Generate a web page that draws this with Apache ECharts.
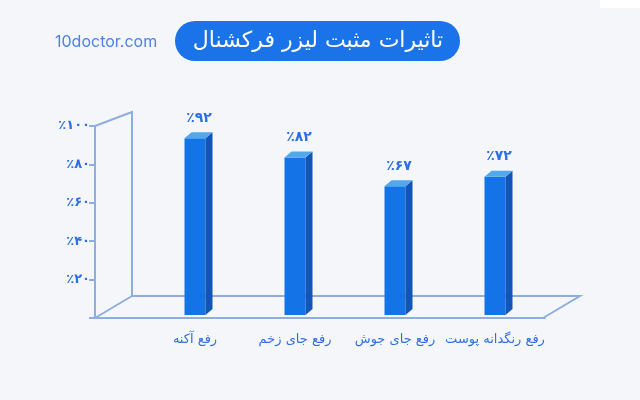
<!DOCTYPE html>
<html>
<head>
<meta charset="utf-8">
<script src="https://cdn.jsdelivr.net/npm/echarts@6/dist/echarts.min.js"></script>
<style>
  html, body { margin: 0; padding: 0; background: #f5f6fa; }
  #main { width: 640px; height: 400px; }
</style>
</head>
<body>
<div id="main"></div>
<script>
// داده ها
var categories = ['رفع آکنه', 'رفع جای زخم', 'رفع جای جوش', 'رفع رنگدانه پوست'];
var values = [92, 82, 67, 72];
var yTickValues = [20, 40, 60, 80, 100];
var chartTitle = 'تاثیرات مثبت لیزر فرکشنال';
var siteName = '10doctor.com';

var faDigits = '۰۱۲۳۴۵۶۷۸۹';
function toFa(n) {
	return String(n).replace(/[0-9]/g, function (d) { return faDigits[+d]; });
}
function pct(n) {
	return '\u200E٪' + toFa(n);
}

var lineColor = '#8eaee0';
var textBlue = '#2f6fe4';

var myChart = echarts.init(document.getElementById('main'));

function renderBar(params, api) {
	var x = api.value(0), v = api.value(1);
	var base = api.coord([x, 0]);
	var top = api.coord([x, v]);
	var lift = 3, half = 10.5, d = 7, h = 6;
	var x0 = base[0] - half, x1 = base[0] + half;
	var yb = base[1] - lift, yt = top[1] - lift;
	return {
		type: 'group',
		children: [{
			type: 'rect',
			shape: { x: x0, y: yt, width: x1 - x0, height: yb - yt },
			style: { fill: '#1573e8' }
		}, {
			type: 'polygon',
			shape: { points: [[x1, yt], [x1 + d, yt - h], [x1 + d, yb - h], [x1, yb]] },
			style: { fill: '#1156b6' }
		}, {
			type: 'polygon',
			shape: { points: [[x0, yt], [x1, yt], [x1 + d, yt - h], [x0 + d, yt - h]] },
			style: { fill: '#52a8ec' }
		}, {
			type: 'text',
			x: base[0] + 4,
			y: yt - 20,
			style: {
				text: pct(v),
				fill: textBlue,
				font: 'bold 14px "DejaVu Sans"',
				align: 'center',
				verticalAlign: 'middle'
			}
		}]
	};
}

var option = {
	backgroundColor: '#f5f6fa',
	animation: false,
	grid: { left: 95, top: 126, width: 450, height: 192 },
	xAxis: {
		type: 'value',
		min: -1,
		max: 3.5,
		interval: 1,
		axisLine: { show: true, onZero: false, lineStyle: { color: lineColor, width: 2 } },
		axisTick: { show: false },
		splitLine: { show: false },
		axisLabel: {
			showMaxLabel: false,
			margin: 15,
			color: textBlue,
			fontSize: 13,
			fontFamily: 'DejaVu Sans',
			formatter: function (val) {
				return categories[val] || '';
			}
		}
	},
	yAxis: {
		type: 'value',
		min: 0,
		max: 100,
		interval: 20,
		axisLine: { show: true, onZero: false, lineStyle: { color: lineColor, width: 2 } },
		axisTick: { show: true, length: 6, lineStyle: { color: lineColor, width: 2 } },
		splitLine: { show: false },
		axisLabel: {
			margin: 5,
			color: textBlue,
			fontSize: 13,
			fontWeight: 'bold',
			fontFamily: 'DejaVu Sans',
			formatter: function (val) {
				return yTickValues.indexOf(val) >= 0 ? pct(val) : '';
			}
		}
	},
	graphic: [
		// دیوار و کف
		{ type: 'polyline', z: -1, shape: { points: [[95, 126], [132, 112], [132, 296], [580, 296], [543, 318]] },
			style: { stroke: lineColor, lineWidth: 2, fill: null } },
		{ type: 'line', z: -1, shape: { x1: 95, y1: 318, x2: 132, y2: 296 },
			style: { stroke: lineColor, lineWidth: 2 } },
		{ type: 'rect', shape: { x: 600, y: 0, width: 40, height: 8 }, style: { fill: '#ffffff' } },
		// عنوان
		{ type: 'rect', shape: { x: 175, y: 21, width: 285, height: 40, r: 20 }, style: { fill: '#1a73e8' } },
		{ type: 'text', x: 318, y: 41, style: { text: chartTitle, fill: '#ffffff', font: '22px "DejaVu Sans"', align: 'center', verticalAlign: 'middle' } },
		{ type: 'text', x: 55, y: 42, style: { text: siteName, fill: '#4a82e6', font: '16px Inter', align: 'left', verticalAlign: 'middle' } }
	],
	series: [{
		type: 'custom',
		renderItem: renderBar,
		data: values.map(function (v, i) { return [i, v]; }),
		z: 3
	}]
};

myChart.setOption(option);
</script>
</body>
</html>
